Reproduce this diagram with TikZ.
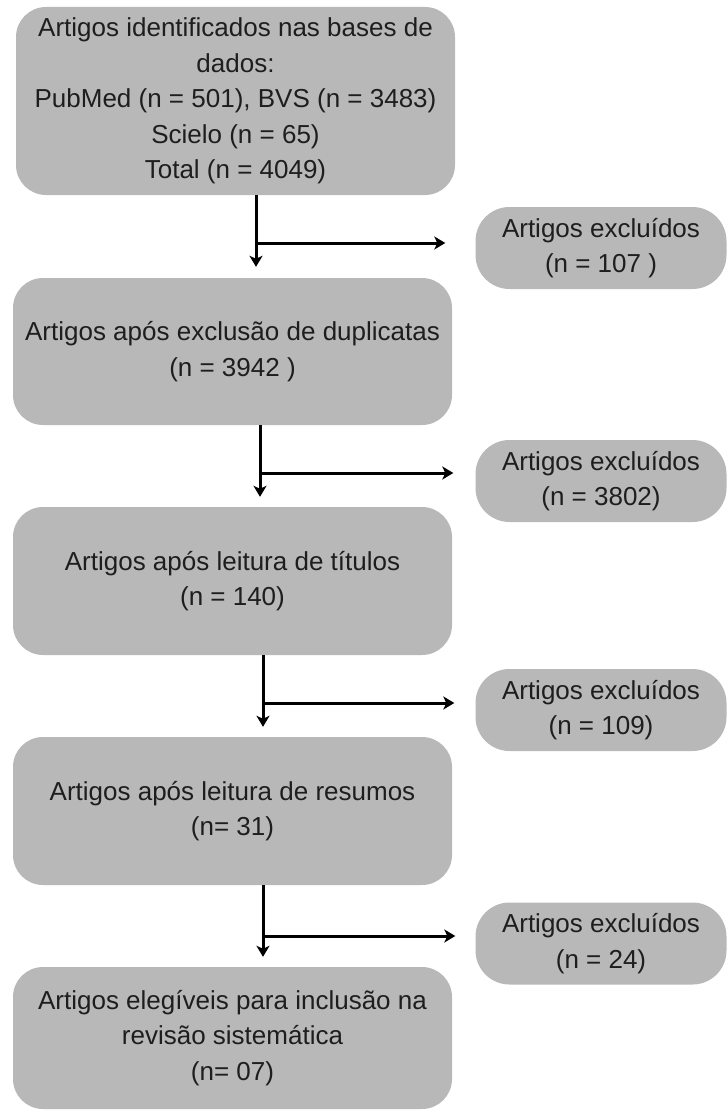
\documentclass[tikz,border=0pt]{standalone}
\usepackage{fontspec}
\setmainfont{Liberation Sans}
\usetikzlibrary{arrows.meta}
\definecolor{boxgray}{RGB}{184,184,184}
\definecolor{txtgray}{RGB}{30,30,30}
\begin{document}
\begin{tikzpicture}[x=1pt,y=-1pt,
    stage/.style={fill=boxgray,rounded corners=30pt,text=txtgray,align=center,
        font=\fontsize{26}{35.5}\selectfont,minimum width=439pt,inner sep=0pt},
    excl/.style={stage,minimum width=251pt,minimum height=82pt,rounded corners=34pt},
    flow/.style={line width=3pt,-{Stealth[length=11pt,width=13pt,inset=3pt]}}]
    \useasboundingbox (0,0) rectangle (727,1110);

    % Main stages
    \node[stage,minimum height=188pt] (ident) at (235.5,101)
        {Artigos identificados nas bases de\\dados:\\PubMed (n = 501), BVS (n = 3483)\\Scielo (n = 65)\\Total (n = 4049)};
    \node[stage,minimum height=147pt] (dupl) at (232.5,351.5)
        {Artigos após exclusão de duplicatas\\(n = 3942 )};
    \node[stage,minimum height=148pt] (titul) at (232.5,581)
        {Artigos após leitura de títulos\\(n = 140)};
    \node[stage,minimum height=148pt] (resum) at (232.5,811)
        {Artigos após leitura de resumos\\(n= 31)};
    \node[stage,minimum height=142pt] (eleg) at (232.5,1038)
        {Artigos elegíveis para inclusão na\\revisão sistemática\\(n= 07)};

    % Excluded articles
    \node[excl] (ex1) at (601,248) {Artigos excluídos\\(n = 107 )};
    \node[excl] (ex2) at (601,481) {Artigos excluídos\\(n = 3802)};
    \node[excl] (ex3) at (601,710) {Artigos excluídos\\(n = 109)};
    \node[excl] (ex4) at (601,943.5) {Artigos excluídos\\(n = 24)};

    % Branch points
    \coordinate (b1) at (256,243);
    \coordinate (b2) at (260,473);
    \coordinate (b3) at (263,703);
    \coordinate (b4) at (263,936);

    % Connectors
    \draw[flow,shorten >=11pt] (ident.south -| b1) -- (dupl.north -| b1);
    \draw[flow,shorten >=10pt] (dupl.south -| b2) -- (titul.north -| b2);
    \draw[flow,shorten >=10pt] (titul.south -| b3) -- (resum.north -| b3);
    \draw[flow,shorten >=10pt] (resum.south -| b4) -- (eleg.north -| b4);

    \draw[flow,shorten >=30pt] (b1) -- (b1 -| ex1.west);
    \draw[flow,shorten >=22pt] (b2) -- (b2 -| ex2.west);
    \draw[flow,shorten >=21pt] (b3) -- (b3 -| ex3.west);
    \draw[flow,shorten >=20pt] (b4) -- (b4 -| ex4.west);
\end{tikzpicture}
\end{document}
